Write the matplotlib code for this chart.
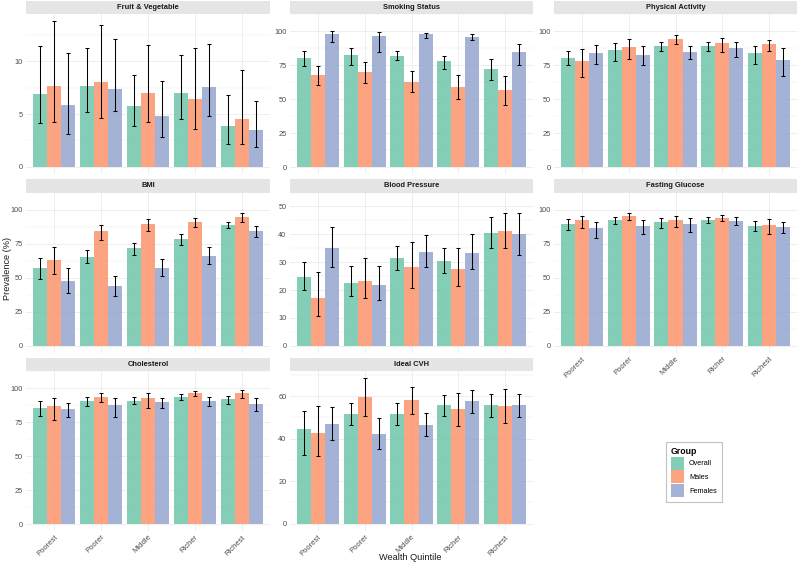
import numpy as np
import matplotlib
matplotlib.use("Agg")
import matplotlib.pyplot as plt
from matplotlib.patches import Patch

plt.rcParams["font.family"] = ["Liberation Sans", "DejaVu Sans"]

# ---------------------------------------------------------------
# data (rows: Overall, Males, Females ; columns: wealth quintiles)
# ---------------------------------------------------------------
quintiles = ["Poorest", "Poorer", "Middle", "Richer", "Richest"]
groups = ["Overall", "Males", "Females"]
colors = ["#66C2A5", "#FC8D62", "#8DA0CB"]

fv_est = [[6.94, 7.70, 5.77, 6.97, 3.91],
          [7.70, 8.00, 7.03, 6.44, 4.54],
          [5.84, 7.38, 4.80, 7.54, 3.44]]
fv_lo = [[4.13, 5.20, 3.82, 4.57, 2.20],
         [4.20, 4.67, 4.20, 3.60, 2.20],
         [3.09, 5.33, 2.80, 4.83, 1.90]]
fv_hi = [[11.5, 11.3, 8.68, 10.6, 6.78],
         [13.8, 13.4, 11.58, 11.3, 9.18],
         [10.8, 12.1, 8.10, 11.64, 6.20]]

smk_est = [[80.0, 82.2, 82.0, 77.7, 72.2],
           [67.4, 70.2, 62.9, 59.2, 56.5],
           [98.0, 96.4, 97.5, 95.9, 84.3]]
smk_lo = [[74.0, 74.7, 79.0, 72.0, 64.0],
          [60.6, 61.7, 54.9, 50.3, 45.8],
          [92.0, 84.5, 95.0, 93.4, 74.7]]
smk_hi = [[85.0, 87.9, 85.2, 82.0, 79.3],
          [74.0, 77.4, 70.4, 67.9, 66.7],
          [99.8, 99.3, 98.9, 97.5, 90.7]]

pa_est = [[80.5, 85.8, 88.9, 88.9, 83.6],
          [77.9, 88.5, 94.2, 90.9, 90.3],
          [83.8, 82.7, 84.7, 87.2, 78.5]]
pa_lo = [[75.2, 78.3, 85.2, 85.0, 75.9],
         [66.6, 79.2, 90.5, 84.7, 85.6],
         [75.7, 74.8, 79.4, 81.2, 67.3]]
pa_hi = [[85.0, 91.2, 92.0, 92.3, 89.2],
         [86.7, 94.2, 96.9, 94.9, 93.6],
         [89.6, 88.7, 88.9, 91.6, 87.2]]

bmi_est = [[56.8, 65.5, 71.5, 78.4, 88.6],
           [63.0, 84.0, 89.3, 90.6, 94.7],
           [47.7, 43.9, 57.2, 66.1, 84.2]]
bmi_lo = [[49.0, 60.6, 67.0, 74.2, 86.2],
          [53.0, 77.7, 84.6, 87.0, 90.9],
          [39.0, 36.7, 51.0, 59.7, 79.7]]
bmi_hi = [[64.4, 70.2, 75.7, 82.2, 91.1],
          [72.2, 88.6, 92.9, 93.8, 97.1],
          [56.8, 51.4, 63.7, 72.2, 88.2]]

bp_est = [[24.6, 22.7, 31.4, 30.6, 40.5],
          [17.2, 23.4, 28.3, 27.6, 41.2],
          [35.1, 21.8, 33.7, 33.4, 40.0]]
bp_lo = [[20.0, 17.8, 27.2, 26.2, 35.1],
         [10.7, 17.0, 20.9, 21.6, 35.0],
         [28.2, 16.3, 28.2, 27.6, 32.6]]
bp_hi = [[29.9, 28.8, 35.7, 35.2, 46.2],
         [26.6, 31.4, 37.3, 35.0, 47.8],
         [42.7, 28.6, 39.6, 40.1, 47.8]]

fg_est = [[89.5, 92.0, 90.6, 92.4, 88.2],
          [92.0, 95.3, 92.0, 94.0, 88.6],
          [86.2, 88.0, 89.3, 91.5, 87.5]]
fg_lo = [[85.3, 89.3, 86.6, 90.4, 84.0],
         [86.6, 92.4, 87.1, 91.3, 82.0],
         [78.8, 82.4, 83.3, 88.4, 83.1]]
fg_hi = [[93.1, 94.4, 93.8, 94.4, 91.5],
         [95.5, 97.1, 95.1, 96.2, 93.3],
         [91.1, 92.0, 93.8, 94.2, 91.1]]

chol_est = [[85.7, 90.4, 90.8, 93.5, 91.7],
            [86.8, 93.7, 92.6, 96.4, 96.4],
            [84.5, 87.2, 89.5, 90.6, 88.6]]
chol_lo = [[79.4, 87.0, 88.1, 91.3, 88.6],
           [76.7, 89.5, 85.0, 94.2, 93.0],
           [79.1, 78.7, 85.4, 87.0, 83.0]]
chol_hi = [[90.6, 93.5, 93.5, 95.5, 94.4],
           [92.8, 96.6, 96.6, 98.0, 98.2],
           [89.0, 92.8, 92.8, 93.5, 92.6]]

cvh_est = [[44.5, 51.6, 51.6, 55.6, 55.6],
           [42.8, 59.7, 58.1, 53.8, 55.3],
           [47.0, 42.0, 46.4, 57.5, 55.8]]
cvh_lo = [[32.3, 46.6, 46.6, 50.6, 50.3],
          [31.7, 50.6, 51.6, 45.9, 47.5],
          [39.4, 35.0, 41.1, 52.2, 50.3]]
cvh_hi = [[53.1, 56.7, 56.6, 60.5, 60.8],
          [55.3, 68.4, 64.5, 61.7, 63.3],
          [54.7, 49.5, 52.0, 62.7, 61.1]]

panels = [
    ("Fruit & Vegetable", fv_est, fv_lo, fv_hi, [0, 5, 10]),
    ("Smoking Status", smk_est, smk_lo, smk_hi, [0, 25, 50, 75, 100]),
    ("Physical Activity", pa_est, pa_lo, pa_hi, [0, 25, 50, 75, 100]),
    ("BMI", bmi_est, bmi_lo, bmi_hi, [0, 25, 50, 75, 100]),
    ("Blood Pressure", bp_est, bp_lo, bp_hi, [0, 10, 20, 30, 40, 50]),
    ("Fasting Glucose", fg_est, fg_lo, fg_hi, [0, 25, 50, 75, 100]),
    ("Cholesterol", chol_est, chol_lo, chol_hi, [0, 25, 50, 75, 100]),
    ("Ideal CVH", cvh_est, cvh_lo, cvh_hi, [0, 20, 40, 60]),
]

# ---------------------------------------------------------------
# layout in pixels (figure 798 x 566)
# ---------------------------------------------------------------
W, H = 798, 566
col_x = [(26, 270), (290, 533), (554, 797)]
row_top = [0.5, 179, 357.5]
STRIP_H = 13.5
PANEL_H = 160
GRID_C = "#EBEBEB"
TXT_C = "#4D4D4D"

fig = plt.figure(figsize=(W / 100, H / 100), dpi=100)


def fig_rect(x0, x1, top, h):
    return [x0 / W, 1 - (top + h) / H, (x1 - x0) / W, h / H]


x = np.arange(1, 6)
bw = 0.3
offsets = [-bw, 0, bw]

for i, (title, est, lo, hi, yticks) in enumerate(panels):
    r, c = divmod(i, 3)
    x0, x1 = col_x[c]
    top = row_top[r]

    # strip
    sax = fig.add_axes(fig_rect(x0, x1, top, STRIP_H))
    sax.set_facecolor("#E5E5E5")
    sax.set_xticks([])
    sax.set_yticks([])
    for s in sax.spines.values():
        s.set_visible(False)
    sax.text(0.5, 0.5, title, ha="center", va="center", fontsize=5.4,
             fontweight="bold", color="#1A1A1A", transform=sax.transAxes)

    ax = fig.add_axes(fig_rect(x0, x1, top + STRIP_H, PANEL_H))
    est = np.array(est)
    lo = np.array(lo)
    hi = np.array(hi)
    for g in range(3):
        ax.bar(x + offsets[g], est[g], width=bw, color=colors[g], alpha=0.8,
               edgecolor="none", zorder=2)
        ax.errorbar(x + offsets[g], est[g],
                    yerr=[est[g] - lo[g], hi[g] - est[g]],
                    fmt="none", ecolor="black", elinewidth=0.75,
                    capsize=1.4, capthick=0.75, zorder=3)

    top_val = hi.max()
    ax.set_ylim(-0.05 * top_val, 1.05 * top_val)
    ax.set_xlim(0.4, 5.6)
    ax.set_yticks(yticks)
    step = yticks[1] - yticks[0]
    ax.set_yticks([t + step / 2 for t in yticks], minor=True)
    ax.set_xticks(x)
    ax.grid(True, which="major", color=GRID_C, linewidth=0.6, zorder=0)
    ax.grid(True, which="minor", axis="y", color=GRID_C, linewidth=0.35, zorder=0)
    ax.set_axisbelow(True)
    for s in ax.spines.values():
        s.set_visible(False)
    ax.tick_params(axis="y", which="both", length=0, labelsize=5.3,
                   labelcolor=TXT_C, pad=2.5)
    ax.tick_params(axis="x", which="both", length=0, labelsize=5.5,
                   labelcolor=TXT_C, pad=2)

    bottom_of_col = (r == 2) or (r == 1 and c == 2)
    if bottom_of_col:
        ax.set_xticklabels(quintiles, rotation=45, ha="right",
                           rotation_mode="anchor")
    else:
        ax.set_xticklabels([])

fig.text(8 / W, 1 - 268 / H, "Prevalence (%)", rotation=90, ha="center",
         va="center", fontsize=6.6, color="#1A1A1A")
fig.text(410 / W, 1 - 557 / H, "Wealth Quintile", ha="center", va="center",
         fontsize=6.6, color="#1A1A1A")

handles = [Patch(facecolor=colors[g], alpha=0.8, edgecolor="none") for g in range(3)]
leg = fig.legend(handles, groups, title="Group", loc="upper left",
                 bbox_to_anchor=(666 / W, 1 - 442 / H), frameon=True,
                 fontsize=5.2, title_fontsize=6.3, handlelength=1.8,
                 handleheight=2.4, handletextpad=0.7, labelspacing=0.08,
                 borderpad=0.7, borderaxespad=0, fancybox=False)
leg.get_title().set_fontweight("bold")
leg._legend_box.align = "left"
leg.get_frame().set_edgecolor("#B3B3B3")
leg.get_frame().set_linewidth(0.8)

fig.savefig("out.png", dpi=100)
